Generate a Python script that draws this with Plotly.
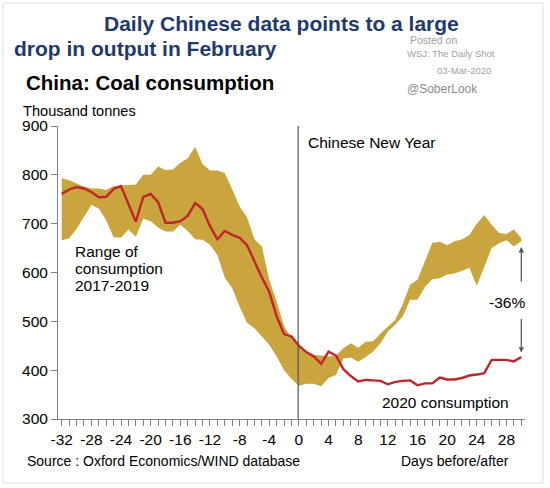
import plotly.graph_objects as go

# ---------------- data ----------------
days = list(range(-32, 31))

consumption_2020 = [
    761, 770, 775, 772, 765, 754, 755, 771, 777, 740,   # -32..-23
    704, 755, 761, 744, 702, 702, 705, 716, 742, 730,   # -22..-13
    695, 668, 685, 677, 671, 656, 622, 590, 560, 510,   # -12..-3
    474, 469, 450, 437, 428, 413, 438, 430, 402, 388,   # -2..7
    377, 380, 379, 378, 371, 376, 378, 379, 369, 373,   # 8..17
    373, 385, 381, 381, 384, 389, 391, 394, 421, 421,   # 18..27
    421, 418, 427,                                      # 28..30
]

range_high = [
    793, 789, 782, 776, 772, 772, 769, 777, 778, 779,   # -32..-23
    780, 800, 800, 817, 810, 811, 824, 834, 857, 822,   # -22..-13
    809, 809, 804, 770, 735, 713, 668, 653, 585, 540,   # -12..-3
    490, 466, 450, 438, 431, 430, 428, 430, 445, 455,   # -2..7
    446, 458, 459, 475, 490, 503, 535, 575, 585, 622,   # 8..17
    661, 663, 656, 664, 668, 677, 700, 718, 698, 681,   # 18..27
    679, 688, 670,                                      # 28..30
]

range_low = [
    666, 670, 689, 714, 738, 731, 707, 672, 671, 688,   # -32..-23
    673, 710, 705, 692, 684, 684, 698, 685, 668, 667,   # -22..-13
    657, 636, 590, 568, 530, 497, 486, 469, 452, 428,   # -12..-3
    400, 382, 368, 372, 372, 367, 384, 390, 424, 426,   # -2..7
    417, 427, 438, 455, 479, 493, 510, 544, 544, 571,   # 8..17
    586, 588, 596, 598, 604, 609, 573, 612, 650, 660,   # 18..27
    666, 653, 664,                                      # 28..30
]

x_tick_values = list(range(-32, 29, 4))
x_tick_labels = [str(v) for v in x_tick_values]
y_tick_values = [300, 400, 500, 600, 700, 800, 900]
y_tick_labels = [str(v) for v in y_tick_values]

# ---------------- styles ----------------
W, H = 550, 488
L, R, T, B = 58, 25, 126, 69
PW, PH = W - L - R, H - T - B
FONT = "Liberation Sans, Arial, sans-serif"
GOLD = "#CAA43C"
RED = "#BF262C"
NAVY = "#1E3A6E"


def px(x, y):
    """pixel position -> paper coordinates"""
    return (x - L) / PW, (H - B - y) / PH


fig = go.Figure()

fig.add_trace(go.Scatter(x=days, y=range_low, mode="lines",
                         line=dict(width=0, color=GOLD),
                         hoverinfo="skip", showlegend=False))
fig.add_trace(go.Scatter(x=days, y=range_high, mode="lines",
                         line=dict(width=0, color=GOLD), fill="tonexty",
                         fillcolor=GOLD, hoverinfo="skip", showlegend=False))
fig.add_trace(go.Scatter(x=days, y=consumption_2020, mode="lines",
                         line=dict(width=2.4, color=RED),
                         showlegend=False))

# Chinese New Year line
fig.add_shape(type="line", xref="x", yref="paper", x0=-0.1, x1=-0.1, y0=0, y1=1,
              line=dict(color="#555555", width=1.2))

annotations = []


def text(s, x, y, size, color="#000000", anchor="left", bold=False, yanchor="middle"):
    xp, yp = px(x, y)
    if bold:
        s = "<b>" + s + "</b>"
    annotations.append(dict(text=s, x=xp, y=yp, xref="paper", yref="paper",
                            xanchor=anchor, yanchor=yanchor, showarrow=False,
                            font=dict(family=FONT, size=size, color=color)))


text("Daily Chinese data points to a large", 281, 24, 21, NAVY, "center", True)
text("drop in output in February", 12, 48, 21, NAVY, "left", True)
text("China: Coal consumption", 24, 82, 20.5, "#000000", "left", True)
text("Thousand tonnes", 21, 111, 14.6, "#000000", "left")
text("Posted on", 408, 40, 10.5, "#A0A0A0", "left")
text("WSJ: The Daily Shot", 405, 54, 9.5, "#A0A0A0", "left")
text("03-Mar-2020", 435, 70, 9.5, "#A0A0A0", "left")
text("@SoberLook", 405, 89, 12, "#8C8C8C", "left")
text("Chinese New Year", 306, 142, 15.5, "#000000", "left")
text("Range of", 73, 251, 15.5, "#000000", "left")
text("consumption", 73, 268, 15.5, "#000000", "left")
text("2017-2019", 73, 285, 15.5, "#000000", "left")
text("2020 consumption", 380, 402, 15.5, "#000000", "left")
text("-36%", 527, 302, 15.5, "#000000", "right")
text("Source : Oxford Economics/WIND database", 25, 461, 14, "#000000", "left")
text("Days before/after", 399, 461, 14, "#000000", "left")

# -36% arrows
annotations.append(dict(x=30, y=652, ax=30, ay=578, xref="x", yref="y", axref="x", ayref="y",
                        showarrow=True, arrowhead=2, arrowsize=0.9, arrowwidth=1.2,
                        arrowcolor="#555555", text=""))
annotations.append(dict(x=30, y=436, ax=30, ay=508, xref="x", yref="y", axref="x", ayref="y",
                        showarrow=True, arrowhead=2, arrowsize=0.9, arrowwidth=1.2,
                        arrowcolor="#555555", text=""))

# frame around the whole picture
fig.add_shape(type="rect", xref="paper", yref="paper",
              x0=px(3, 0)[0], x1=px(543, 0)[0], y0=px(0, 483)[1], y1=px(0, 3)[1],
              line=dict(color="#DDDDDD", width=1))

fig.update_layout(
    width=W, height=H,
    margin=dict(l=L, r=R, t=T, b=B),
    paper_bgcolor="white", plot_bgcolor="white",
    font=dict(family=FONT, size=15.5, color="#000000"),
    annotations=annotations,
    showlegend=False,
)

fig.update_xaxes(range=[-32.5, 30.5], showgrid=False, zeroline=False,
                 showline=True, linecolor="#808080", linewidth=1,
                 tickmode="array", tickvals=x_tick_values, ticktext=x_tick_labels,
                 ticks="outside", ticklen=6, tickcolor="#808080",
                 minor=dict(dtick=1, tick0=-32, ticks="outside", ticklen=6,
                            tickcolor="#808080", showgrid=False),
                 tickfont=dict(family=FONT, size=15.5))
fig.update_yaxes(range=[300, 900], showgrid=False, zeroline=False,
                 showline=True, linecolor="#808080", linewidth=1,
                 tickmode="array", tickvals=y_tick_values, ticktext=y_tick_labels,
                 ticks="outside", ticklen=6, tickcolor="#808080",
                 tickfont=dict(family=FONT, size=15.5))

fig.write_html("out.html")
